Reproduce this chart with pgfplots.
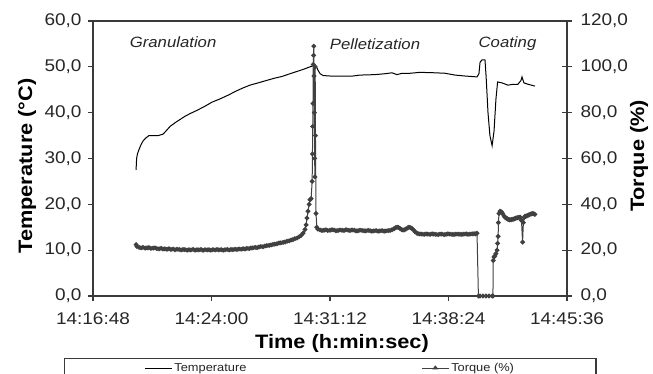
\documentclass[border=0pt]{standalone}
\usepackage{fontspec}
\setmainfont{Liberation Sans}[FakeStretch=1.12]
\usepackage{pgfplots}
\pgfplotsset{compat=1.18}
\definecolor{axgray}{HTML}{3A3A3A}
\definecolor{dgray}{HTML}{262626}
\definecolor{tqgray}{HTML}{404040}
\begin{document}
\begin{tikzpicture}
\useasboundingbox (0,0) rectangle (653bp,374bp);
% ---------------- left axis : temperature ----------------
\begin{axis}[
  at={(93bp,78bp)}, anchor=south west, scale only axis,
  width=474bp, height=275bp,
  xmin=0, xmax=1728, ymin=0, ymax=60,
  xtick={0,432,864,1296,1728},
  xticklabels={14:16:48,14:24:00,14:31:12,14:38:24,14:45:36},
  ytick={0,10,20,30,40,50,60},
  yticklabels={{0,0},{10,0},{20,0},{30,0},{40,0},{50,0},{60,0}},
  tick pos=left, tick align=outside, major tick length=5bp,
  axis line style={axgray, line width=1.3bp},
  every tick/.style={axgray, line width=1.1bp},
  ticklabel style={font=\fontsize{17}{19}\selectfont, text=dgray},
  yticklabel style={xshift=-3bp},
  xticklabel style={yshift=-8bp},
  clip=false,
]
\addplot[black, line width=1bp] coordinates {
(157,27.5) (159,30) (162,31) (168,32) (175,33) (182,33.8) (193,34.5) (204,35)
(219,35) (237,35) (255,35.3) (266,36) (281,37) (299,37.8) (317,38.5) (335,39.2)
(354,39.8) (379,40.5) (408,41.4) (434,42.3) (463,43) (492,43.8) (518,44.6)
(543,45.3) (572,46) (602,46.5) (631,47) (660,47.5) (689,47.9) (718,48.5)
(744,49) (769,49.5) (791,50) (806,50.3) (813,50.2) (820,49.3) (828,48.5)
(839,48.1) (864,48) (901,48) (948,48) (973,48.2) (1028,48.3) (1065,48.5)
(1090,48.7) (1108,48.3) (1127,48.6) (1156,48.6) (1192,48.8) (1247,48.7)
(1283,48.6) (1320,48.2) (1356,48) (1400,47.8) (1407,48.5) (1411,51) (1418,51.5)
(1429,51.5) (1433,48) (1440,40) (1447,35) (1455,32.8) (1462,36) (1469,43)
(1475,46.7) (1491,46.5) (1513,46) (1531,46.2) (1549,46.2) (1560,47) (1564,47.8)
(1571,46.5) (1586,46.2) (1611,45.8)
};
\node[font=\fontsize{15}{17}\itshape, text=dgray] at (axis cs:292,55.4) {Granulation};
\node[font=\fontsize{15}{17}\itshape, text=dgray] at (axis cs:1028,55.0) {Pelletization};
\node[font=\fontsize{15}{17}\itshape, text=dgray] at (axis cs:1511,55.0) {Coating};
\end{axis}
% ---------------- right axis : torque ----------------
\begin{axis}[
  at={(93bp,78bp)}, anchor=south west, scale only axis,
  width=474bp, height=275bp,
  xmin=0, xmax=1728, ymin=0, ymax=120,
  axis x line=none, axis y line*=right,
  ytick={0,20,40,60,80,100,120},
  yticklabels={{0,0},{20,0},{40,0},{60,0},{80,0},{100,0},{120,0}},
  tick align=center, major tick length=10bp,
  axis line style={axgray, line width=1.3bp},
  every tick/.style={axgray, line width=1.1bp},
  ticklabel style={font=\fontsize{17}{19}\selectfont, text=dgray},
  yticklabel style={xshift=5bp},
  legend columns=2,
  legend style={at={(axis description cs:-0.0612,-0.2255)}, anchor=north west,
    draw=axgray, line width=1.1bp, inner xsep=80bp, inner ysep=2.5bp,
    font=\fontsize{11.5}{13}\selectfont, text=dgray,
    /tikz/every even column/.append style={column sep=173bp}},
]
\addlegendimage{black, line width=0.8bp, legend image code/.code={\draw[black, line width=0.9bp] (0bp,0bp) -- (27bp,0bp);}}
\addlegendentry{Temperature}
\addplot[tqgray, line width=1bp, mark=*, mark size=1.9bp, mark options={fill=tqgray},
  legend image code/.code={\draw[tqgray, line width=0.8bp] (0bp,0bp) -- (27bp,0bp);
    \fill[tqgray] (11.5bp,-0.8bp) -- (15.5bp,-0.8bp) -- (13.5bp,1.8bp) -- cycle;}] coordinates {
(157,22.4) (160,21.6) (168,21.2) (175,21.0) (182,21.2) (190,20.9) (197,21.0)
(204,21.1) (211,20.8) (219,20.9) (226,21.0) (233,20.7) (241,20.6) (248,20.8)
(255,20.5) (262,20.6) (270,20.4) (277,20.6) (284,20.3) (292,20.5) (299,20.2)
(306,20.4) (314,20.3) (321,20.1) (328,20.3) (335,20.2) (343,20.0) (350,20.2)
(357,20.1) (365,20.3) (372,20.0) (379,20.2) (386,20.1) (394,20.3) (401,20.0)
(408,20.2) (416,20.1) (423,20.2) (430,20.0) (437,20.2) (445,20.1) (452,20.3)
(459,20.1) (467,20.2) (474,20.0) (481,20.2) (489,20.3) (496,20.1) (503,20.3)
(510,20.2) (518,20.4) (525,20.3) (532,20.5) (540,20.4) (547,20.6) (554,20.5)
(561,20.8) (569,20.7) (576,20.9) (583,21.0) (591,21.2) (598,21.1) (605,21.4)
(612,21.6) (620,21.5) (627,21.8) (634,22.0) (642,22.1) (649,22.3) (656,22.5)
(663,22.6) (671,22.8) (678,23.1) (685,23.2) (693,23.4) (700,23.6) (707,23.9)
(715,24.1) (722,24.4) (729,24.6) (736,25.0) (744,25.3) (751,25.8) (758,26.4)
(766,27.4) (773,29) (777,31) (780,34) (784,37) (788,40) (791,42) (795,42.5)
(799,50) (800,62) (801,74) (802,84) (803,101) (804,105) (805,109) (806,96)
(807,80) (808,60) (809,52) (810,100) (811,70) (813,36) (816,30) (820,29.2)
(828,28.8) (835,28.6) (842,28.7) (849,28.9) (856,28.6) (864,28.7) (871,28.9)
(879,28.8) (886,28.5) (893,28.6) (900,28.8) (908,28.7) (915,28.6) (922,28.9)
(930,28.7) (937,28.6) (944,28.8) (952,28.7) (959,28.4) (966,28.5) (973,28.7)
(981,28.6) (988,28.5) (995,28.4) (1003,28.6) (1010,28.5) (1017,28.3)
(1024,28.4) (1032,28.5) (1039,28.3) (1046,28.4) (1054,28.5) (1061,28.3)
(1068,28.4) (1076,28.5) (1083,28.6) (1090,28.9) (1097,29.3) (1103,29.8)
(1108,30.0) (1114,29.9) (1119,29.5) (1125,29.0) (1130,28.8) (1136,28.9)
(1141,29.2) (1147,29.7) (1152,30.0) (1158,29.8) (1163,29.4) (1169,28.7)
(1174,28.0) (1180,27.5) (1185,27.2) (1192,27.1) (1199,27.0) (1207,26.9)
(1214,27.1) (1221,27.0) (1229,26.9) (1236,27.1) (1243,27.0) (1250,26.9)
(1258,26.8) (1265,27.0) (1272,27.0) (1280,26.8) (1287,26.9) (1294,27.1)
(1301,27.0) (1309,26.9) (1316,26.8) (1323,27.0) (1331,27.0) (1338,26.9)
(1345,26.9) (1352,27.0) (1360,27.1) (1367,26.9) (1374,27.0) (1382,27.1)
(1389,27.2) (1395,27.1) (1400,27.4) (1405,0)
(1411,0) (1422,0) (1433,0) (1444,0) (1455,0) (1458,0) (1459,15.5) (1462,17)
(1465,17.5) (1469,18.5) (1473,20) (1475,23) (1477,26) (1478,32) (1480,36)
(1484,37) (1487,36.8) (1491,36.5) (1494,35.8) (1498,35) (1502,34.4) (1506,34)
(1510,33.7) (1513,33.5) (1517,33.3) (1520,33.2) (1524,33.3) (1527,33.4)
(1531,33.5) (1535,33.6) (1538,33.8) (1542,34) (1546,34.1) (1549,34.2)
(1553,34.3) (1557,34.4) (1562,33) (1566,23.5) (1569,32) (1572,34.2)
(1575,34.8) (1579,34.9) (1582,35) (1586,35.2) (1589,35.4) (1593,35.6)
(1597,35.8) (1600,35.9) (1604,36) (1608,35.8) (1611,35.6)
};
\addlegendentry{Torque (\%)}
\end{axis}
% axis titles
\node[rotate=90, font=\fontsize{19.5}{21}\bfseries, text=black] at (27bp,208bp) {Temperature (°C)};
\node[rotate=90, font=\fontsize{19.5}{21}\bfseries, text=black] at (639bp,218bp) {Torque (\%)};
\node[font=\fontsize{19.5}{21}\bfseries, text=black] at (342bp,31bp) {Time (h:min:sec)};
\end{tikzpicture}
\end{document}
